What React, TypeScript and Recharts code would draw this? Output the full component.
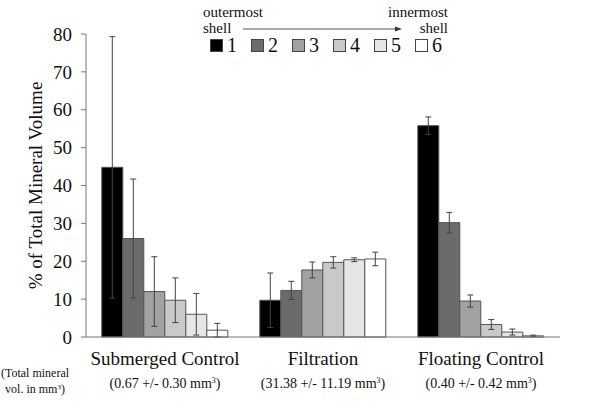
import React from "react"
import {
  BarChart,
  Bar,
  XAxis,
  YAxis,
  ErrorBar,
  ReferenceLine,
} from "recharts"

const categories = ["Submerged Control", "Filtration", "Floating Control"]
const totals = ["(0.67 +/- 0.30 mm", "(31.38 +/- 11.19 mm", "(0.40 +/- 0.42 mm"]

const shell1 = [44.8, 9.7, 55.8]
const shell2 = [26.0, 12.3, 30.2]
const shell3 = [12.0, 17.7, 9.5]
const shell4 = [9.7, 19.7, 3.3]
const shell5 = [6.0, 20.4, 1.3]
const shell6 = [1.8, 20.6, 0.3]

const err1 = [34.5, 7.2, 2.3]
const err2 = [15.7, 2.4, 2.7]
const err3 = [9.2, 2.1, 1.6]
const err4 = [5.9, 1.5, 1.3]
const err5 = [5.5, 0.5, 0.8]
const err6 = [1.8, 1.8, 0.2]

const shells = ["1", "2", "3", "4", "5", "6"]
const shellColors = ["#000000", "#6b6b6b", "#a2a2a2", "#c9c9c9", "#e6e6e6", "#ffffff"]
const yTicks = [0, 10, 20, 30, 40, 50, 60, 70, 80]

const series = [shell1, shell2, shell3, shell4, shell5, shell6]
const errors = [err1, err2, err3, err4, err5, err6]

const data = categories.map((name, i) => {
  const row: Record<string, any> = { name, total: totals[i] }
  series.forEach((s, k) => {
    row["s" + (k + 1)] = s[i]
    row["e" + (k + 1)] = errors[k][i]
  })
  return row
})

const serif = "Liberation Serif, Tinos, DejaVu Serif, serif"

const CategoryTick = (props: any) => {
  const { x, y, payload, index } = props
  return (
    <g>
      <text x={x} y={y + 20} textAnchor="middle" fontFamily={serif} fontSize={19} fill="#111">
        {payload.value}
      </text>
      <text x={x} y={y + 43} textAnchor="middle" fontFamily={serif} fontSize={14} fill="#111">
        {totals[index]}
        <tspan dy={-5} fontSize={8}>3</tspan>
        <tspan dy={5}>)</tspan>
      </text>
    </g>
  )
}

const TotalNote = (props: any) => {
  const { viewBox } = props
  const cx = viewBox.x - 51
  return (
    <g fontFamily={serif} fontSize={12} fill="#111">
      <text x={cx} y={viewBox.y + 40} textAnchor="middle">(Total mineral</text>
      <text x={cx} y={viewBox.y + 56} textAnchor="middle">
        vol. in mm<tspan dy={-4} fontSize={7}>3</tspan>
        <tspan dy={4}>)</tspan>
      </text>
    </g>
  )
}

const YTitle = (props: any) => {
  const { viewBox } = props
  const cx = 42
  const cy = viewBox.y + viewBox.height / 2
  return (
    <text
      x={cx}
      y={cy}
      transform={`rotate(-90 ${cx} ${cy})`}
      textAnchor="middle"
      fontFamily={serif}
      fontSize={19}
      fill="#111"
    >
      % of Total Mineral Volume
    </text>
  )
}

const ShellLegend = () => {
  const xs = [210, 251, 292, 333, 374, 415]
  return (
    <div style={{ position: "absolute", left: 0, top: 0, width: 600, height: 60, fontFamily: serif, color: "#111" }}>
      <div style={{ position: "absolute", left: 203, top: 4, fontSize: 15, lineHeight: "16px" }}>outermost</div>
      <div style={{ position: "absolute", left: 203, top: 20, fontSize: 15, lineHeight: "16px" }}>shell</div>
      <div style={{ position: "absolute", right: 600 - 448, top: 4, fontSize: 15, lineHeight: "16px" }}>innermost</div>
      <div style={{ position: "absolute", right: 600 - 448, top: 20, fontSize: 15, lineHeight: "16px" }}>shell</div>
      <svg style={{ position: "absolute", left: 0, top: 0 }} width={600} height={60}>
        <line x1={243} y1={29} x2={398} y2={29} stroke="#555" strokeWidth={1} />
        <path d="M402,29 L395,26.5 L395,31.5 Z" fill="#333" />
      </svg>
      {shells.map((s, i) => (
        <div key={s} style={{ position: "absolute", left: xs[i], top: 36, height: 18, display: "flex", alignItems: "center" }}>
          <span style={{ display: "inline-block", width: 11, height: 11, background: shellColors[i], border: "1px solid #444" }} />
          <span style={{ fontSize: 20, marginLeft: 4, lineHeight: "18px" }}>{s}</span>
        </div>
      ))}
    </div>
  )
}

export default function App() {
  return (
    <div style={{ position: "absolute", left: 0, top: 0, width: 600, height: 413, background: "#fff" }}>
      <BarChart
        width={600}
        height={413}
        data={data}
        margin={{ top: 34, right: 40, left: 36, bottom: 16 }}
        barCategoryGap="10%"
        barGap={0}
      >
        <XAxis
          xAxisId="n"
          type="number"
          domain={[0, 3]}
          ticks={[0, 1, 2, 3]}
          allowDataOverflow
          tick={false}
          axisLine={false}
          tickLine={{ stroke: "#777" }}
          tickSize={4}
          height={0}
        />
        <XAxis
          dataKey="name"
          height={60}
          axisLine={{ stroke: "#777" }}
          tickLine={false}
          tick={<CategoryTick />}
          interval={0}
          label={<TotalNote />}
        />
        <YAxis
          width={50}
          domain={[0, 80]}
          ticks={yTicks}
          interval={0}
          axisLine={{ stroke: "#777" }}
          tickLine={{ stroke: "#777" }}
          tickSize={5}
          tickMargin={9}
          tick={{ fontFamily: serif, fontSize: 19, fill: "#111" }}
          label={<YTitle />}
        />
        {shells.map((s, i) => (
          <Bar
            key={s}
            dataKey={"s" + (i + 1)}
            fill={shellColors[i]}
            stroke="#555"
            strokeWidth={1}
            isAnimationActive={false}
          >
            <ErrorBar dataKey={"e" + (i + 1)} width={3} stroke="#444" strokeWidth={1} />
          </Bar>
        ))}
        <ReferenceLine
          xAxisId="n"
          segment={[{ x: 2.165, y: 63.5 }, { x: 2.865, y: 63.5 }]}
          stroke="#888"
          strokeWidth={1.5}
          label={{ value: "*", position: "top", fontFamily: serif, fontSize: 18, fill: "#222", offset: -2 }}
        />
        <ReferenceLine xAxisId="n" segment={[{ x: 2.165, y: 62 }, { x: 2.165, y: 65 }]} stroke="#888" strokeWidth={1.5} />
        <ReferenceLine xAxisId="n" segment={[{ x: 2.865, y: 62 }, { x: 2.865, y: 65 }]} stroke="#888" strokeWidth={1.5} />
      </BarChart>
      <ShellLegend />
    </div>
  )
}
